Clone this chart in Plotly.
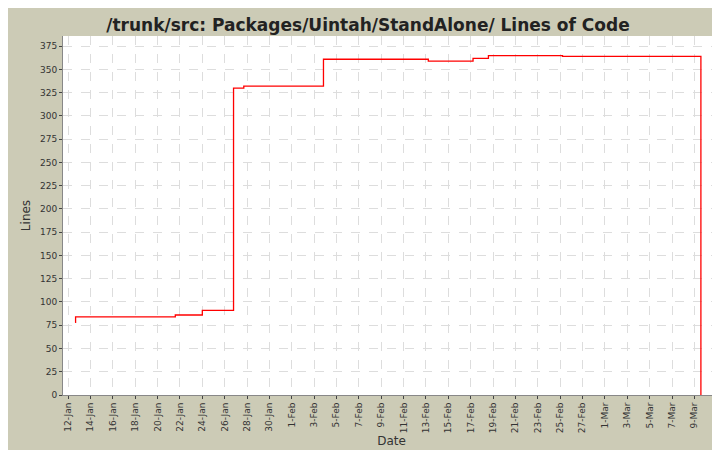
import plotly.graph_objects as go

dates = ["2009-01-12 15:00", "2009-01-12 16:00", "2009-01-21 14:00", "2009-01-24 00:00",
         "2009-01-26 19:00", "2009-01-27 17:00", "2009-02-03 20:00", "2009-02-13 05:00",
         "2009-02-17 05:00", "2009-02-18 14:00", "2009-02-25 05:00", "2009-03-09 14:00",
         "2009-03-09 14:01"]
lines = [78, 84, 86, 91, 330, 332, 361, 359, 362, 365, 364, 364, 0]

tickvals = ["2009-01-12", "2009-01-14", "2009-01-16", "2009-01-18", "2009-01-20", "2009-01-22",
            "2009-01-24", "2009-01-26", "2009-01-28", "2009-01-30", "2009-02-01", "2009-02-03",
            "2009-02-05", "2009-02-07", "2009-02-09", "2009-02-11", "2009-02-13", "2009-02-15",
            "2009-02-17", "2009-02-19", "2009-02-21", "2009-02-23", "2009-02-25", "2009-02-27",
            "2009-03-01", "2009-03-03", "2009-03-05", "2009-03-07", "2009-03-09"]
ticktext = ["12-Jan", "14-Jan", "16-Jan", "18-Jan", "20-Jan", "22-Jan", "24-Jan", "26-Jan",
            "28-Jan", "30-Jan", "1-Feb", "3-Feb", "5-Feb", "7-Feb", "9-Feb", "11-Feb", "13-Feb",
            "15-Feb", "17-Feb", "19-Feb", "21-Feb", "23-Feb", "25-Feb", "27-Feb", "1-Mar",
            "3-Mar", "5-Mar", "7-Mar", "9-Mar"]

fig = go.Figure(go.Scatter(x=dates, y=lines, mode="lines", line=dict(color="#ff0000", width=1.3, shape="hv")))
grid = dict(showgrid=True, gridcolor="#dddddd", griddash="dash", gridwidth=1)
fig.update_layout(
    width=720, height=450, paper_bgcolor="#cccbb6", plot_bgcolor="white",
    margin=dict(l=55, r=8, t=28, b=63, autoexpand=False), showlegend=False,
    font=dict(family="DejaVu Sans", size=9, color="#333333"),
    title=dict(text="<b>/trunk/src: Packages/Uintah/StandAlone/ Lines of Code</b>", x=0.5, y=0.975,
               xanchor="center", font=dict(size=17, color="#222222")),
    xaxis=dict(range=["2009-01-11 13:00", "2009-03-11 07:00"], tickvals=tickvals, ticktext=ticktext,
               tickangle=-90, ticks="outside", ticklen=3, automargin=False,
               title=dict(text="Date", font=dict(size=12), standoff=4),
               showline=True, linecolor="#888888", **grid),
    yaxis=dict(range=[0, 386], dtick=25, ticks="outside", ticklen=3, automargin=False,
               title=dict(text="Lines", font=dict(size=12), standoff=6),
               showline=True, linecolor="#888888", zeroline=False, **grid),
)
fig.write_html("out.html")
